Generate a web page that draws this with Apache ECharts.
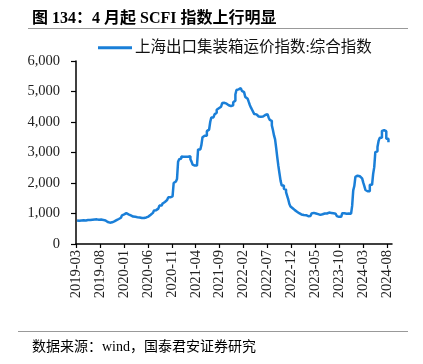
<!DOCTYPE html>
<html>
<head>
<meta charset="utf-8">
<script src="https://cdn.jsdelivr.net/npm/echarts@6/dist/echarts.min.js"></script>
<style>
  html, body { margin: 0; padding: 0; background: #fff; }
  #chart { width: 423px; height: 364px; }
</style>
</head>
<body>
<div id="chart"></div>
<script>
// SCFI 综合指数，周度数据（每周五），起始日期 2019-03-08
const startDate = '2019-03-08';
const scfi2019 = [768, 760, 762, 772, 781, 775, 766, 770, 790, 786, 780, 784, 790,
    796, 800, 806, 810, 808, 800, 795, 790, 800, 806, 790, 780, 770,
    745, 720, 710, 700, 700, 710, 730, 740, 760, 780, 800, 820, 830,
    860, 900, 940, 970];
const scfi2020 = [1000, 1010, 990, 975, 965, 940, 920, 900, 890, 890, 880, 880, 870,
    870, 860, 850, 850, 850, 860, 870, 880, 900, 930, 960, 1000, 1020,
    1050, 1100, 1110, 1140, 1160, 1200, 1260, 1260, 1290, 1330, 1380, 1420, 1440,
    1450, 1530, 1530, 1530, 1560, 1600, 2000, 2050, 2100, 2130, 2700, 2780, 2800];
const scfi2021 = [2870, 2860, 2880, 2860, 2860, 2860, 2880, 2875, 2780, 2700, 2600, 2570, 2570,
    2570, 2580, 3100, 3100, 3120, 3250, 3500, 3550, 3550, 3550, 3700, 3750, 3800,
    4000, 4150, 4150, 4200, 4250, 4300, 4400, 4450, 4480, 4500, 4550, 4620, 4630,
    4600, 4600, 4570, 4550, 4530, 4520, 4500, 4550, 4650, 4700, 4900, 5050, 5070, 5100];
const scfi2022 = [5110, 5050, 5020, 4980, 4980, 4820, 4760, 4730, 4650, 4550, 4470, 4400,
    4330, 4260, 4250, 4200, 4180, 4180, 4170, 4180, 4180, 4200, 4230, 4240, 4260,
    4250, 4150, 4070, 4040, 3890, 3740, 3560, 3430, 3150, 2850, 2560, 2310, 2070, 1920,
    1920, 1810, 1780, 1700, 1580, 1460, 1310, 1230, 1170, 1110, 1110, 1090, 1060];
const scfi2023 = [1050, 1010, 980, 970, 960, 950, 940, 945, 930, 910, 900, 920, 930,
    1000, 1020, 990, 1000, 990, 980, 975, 955, 955, 975, 960, 1000, 955,
    1000, 1030, 1030, 1040, 1020, 1030, 1010, 1010, 995, 1000, 915, 890, 890,
    890, 920, 1010, 1010, 985, 990, 1000, 1000, 1000, 995, 1030, 1250, 1760];
const scfi2024 = [1900, 2200, 2240, 2180, 2220, 2170, 2150, 2110, 2010, 1900, 1770, 1730, 1730,
    1730, 1940, 1940, 1940, 2300, 2520, 3010, 3040, 3180, 3380, 3480, 3480, 3710,
    3730, 3670, 3700, 3450, 3450, 3340];

const seriesName = '上海出口集装箱运价指数:综合指数';
const titleText = '图 134：4 月起 SCFI 指数上行明显';
const sourceText = '数据来源：wind，国泰君安证券研究';
const yTicks = [0, 1000, 2000, 3000, 4000, 5000, 6000];

// 月序号：2019-03 = 0
function monthIndex(d) {
    const y = d.getUTCFullYear(), m = d.getUTCMonth();
    const days = new Date(Date.UTC(y, m + 1, 0)).getUTCDate();
    return (y - 2019) * 12 + (m - 2) + (d.getUTCDate() - 1) / days;
}
function monthLabel(idx) {
    const k = Math.round(idx) + 2;
    const y = 2019 + Math.floor(k / 12);
    const m = (k % 12) + 1;
    return y + '-' + (m < 10 ? '0' + m : m);
}

const values = [].concat(scfi2019, scfi2020, scfi2021, scfi2022, scfi2023, scfi2024);
const t0 = new Date(startDate + 'T00:00:00Z').getTime();
const points = values.map((v, i) => [monthIndex(new Date(t0 + i * 7 * 86400000)), v]);

const serif = '"Liberation Serif", "Noto Sans CJK SC", serif';
const chart = echarts.init(document.getElementById('chart'), null, { renderer: 'canvas' });

const option = {
    backgroundColor: '#fff',
    animation: false,
    title: [
        {
            text: titleText,
            left: 27, top: 6,
            textStyle: { fontFamily: serif, fontSize: 16, fontWeight: 'bold', color: '#000' }
        },
        {
            text: sourceText,
            left: 27, top: 335,
            textStyle: { fontFamily: serif, fontSize: 14, fontWeight: 'normal', color: '#000' }
        }
    ],
    graphic: [
        { type: 'line', shape: { x1: 28, y1: 28.5, x2: 408, y2: 28.5 }, style: { stroke: '#999', lineWidth: 1 } },
        { type: 'line', shape: { x1: 18, y1: 331.5, x2: 408, y2: 331.5 }, style: { stroke: '#999', lineWidth: 1 } }
    ],
    legend: {
        data: [seriesName],
        left: 93, top: 35,
        icon: 'rect',
        itemWidth: 34, itemHeight: 3,
        itemGap: 4,
        textStyle: { fontFamily: serif, fontSize: 15.5, color: '#111', padding: [0, 0, 0, -2] }
    },
    grid: { left: 76, right: 31, top: 61, bottom: 120 },
    xAxis: {
        type: 'value',
        min: 0, max: 66, interval: 5,
        splitLine: { show: false },
        axisLine: { show: true, lineStyle: { color: '#000', width: 1.5 } },
        axisTick: { show: true, length: 4, lineStyle: { color: '#000', width: 1.2 } },
        axisLabel: {
            rotate: 90, margin: 6, showMaxLabel: false,
            fontFamily: serif, fontSize: 14.5, color: '#222',
            formatter: v => monthLabel(v)
        }
    },
    yAxis: {
        type: 'value',
        min: yTicks[0], max: yTicks[yTicks.length - 1], interval: 1000,
        splitLine: { show: false },
        axisLine: { show: true, lineStyle: { color: '#000', width: 1.5 } },
        axisTick: { show: true, length: 5, lineStyle: { color: '#000', width: 1.2 } },
        axisLabel: {
            margin: 16,
            fontFamily: serif, fontSize: 14.5, color: '#222',
            formatter: v => v.toLocaleString('en-US')
        }
    },
    series: [
        {
            name: seriesName,
            type: 'line',
            data: points,
            step: 'end',
            showSymbol: false,
            itemStyle: { color: '#1a7fd8' },
            lineStyle: { color: '#1a7fd8', width: 2.5 }
        }
    ]
};

chart.setOption(option);
window.addEventListener('resize', chart.resize);
</script>
</body>
</html>
